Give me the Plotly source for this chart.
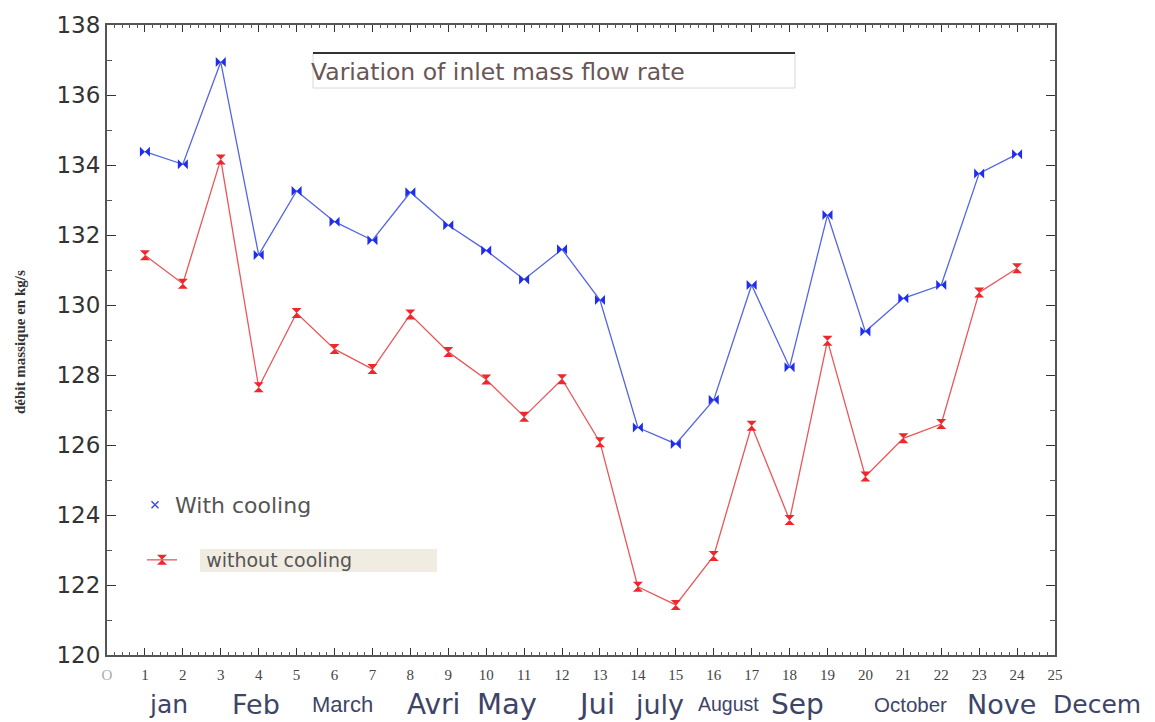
import plotly.graph_objects as go

# ---- data ----
x_index = list(range(1, 25))
with_cooling = [134.38, 134.02, 136.94, 131.43, 133.26, 132.38, 131.85, 133.22, 132.28, 131.56,
                130.73, 131.59, 130.14, 126.50, 126.03, 127.29, 130.57, 128.22, 132.57, 129.24,
                130.19, 130.57, 133.76, 134.31]
without_cooling = [131.42, 130.61, 134.16, 127.65, 129.77, 128.74, 128.17, 129.73, 128.66, 127.87,
                   126.81, 127.88, 126.08, 121.95, 121.43, 122.83, 126.55, 123.86, 128.98, 125.10,
                   126.19, 126.60, 130.36, 131.05]
x_tick_values = list(range(0, 26))
x_tick_labels = ["<span style='color:#aaaaaa'>O</span>"] + [str(v) for v in range(1, 26)]
month_labels = ["jan", "Feb", "March", "Avri", "May", "Jui", "july", "August", "Sep",
                "October", "Nove", "Decem"]
title_text = "Variation of inlet mass flow rate"
y_title = "débit massique en kg/s"

# ---- layout helpers (positions / styles only) ----
month_pos = [1.61, 3.93, 6.2, 8.6, 10.55, 12.92, 14.56, 16.38, 18.2, 21.2, 23.58, 26.11]
month_size = [25, 27, 22, 28, 29, 29, 27, 19.5, 28, 20.5, 27, 25]
small = {"March", "August", "October"}

W, H = 1155, 722
L, T = 107, 25
R = W - 1055
B = H - 655
pw, ph = W - L - R, H - T - B

WIDE = "DejaVu Sans, Verdana, sans-serif"
SANS = "Liberation Sans, Arial, sans-serif"


def px(xp):
    return (xp - L) / pw


def py(yp):
    return (H - B - yp) / ph


fig = go.Figure()
fig.add_trace(go.Scatter(
    x=x_index, y=with_cooling, mode="lines+markers", name="With cooling",
    line=dict(color="#5565e2", width=1.3),
    marker=dict(symbol="bowtie", size=10, color="#1f2df0"),
    showlegend=False))
fig.add_trace(go.Scatter(
    x=x_index, y=without_cooling, mode="lines+markers",
    name="\u00a0\u00a0\u00a0\u00a0without cooling",
    line=dict(color="#e8575a", width=1.3),
    marker=dict(symbol="hourglass", size=10, color="#f0262a"),
    legend="legend2"))
# legend sample for the blue series
fig.add_trace(go.Scatter(
    x=[None], y=[None], mode="markers", name="With cooling",
    marker=dict(symbol="x-thin-open", size=7, color="#3b4fe0", line=dict(width=1.5, color="#3b4fe0")),
    legend="legend"))

annotations = []
for name, xv, s in zip(month_labels, month_pos, month_size):
    fam = SANS if name in small else WIDE
    annotations.append(dict(
        x=xv / 25.0, y=py(704), xref="paper", yref="paper", text=name, showarrow=False,
        xanchor="center", yanchor="middle",
        font=dict(family=fam, size=s, color="#3e4468")))
annotations.append(dict(
    x=px(309), y=py(72), xref="paper", yref="paper", text=title_text, showarrow=False,
    xanchor="left", yanchor="middle",
    font=dict(family=WIDE, size=23.5, color="#6b5555")))
annotations.append(dict(
    x=px(20), y=py(342), xref="paper", yref="paper", text="<b>" + y_title + "</b>",
    showarrow=False, textangle=-90, xanchor="center", yanchor="middle",
    font=dict(family="Liberation Serif, Times New Roman", size=15, color="#333333")))

shapes = [
    dict(type="rect", xref="paper", yref="paper", x0=px(313), x1=px(795), y0=py(88), y1=py(53),
         line=dict(color="#d8d8d8", width=1), fillcolor="rgba(0,0,0,0)"),
    dict(type="line", xref="paper", yref="paper", x0=px(313), x1=px(795), y0=py(53), y1=py(53),
         line=dict(color="#333333", width=2)),
    dict(type="rect", xref="paper", yref="paper", x0=px(200), x1=px(437), y0=py(572), y1=py(549),
         line=dict(width=0), fillcolor="#f1ece2", layer="below"),
]

fig.update_layout(
    width=W, height=H,
    margin=dict(l=L, r=R, t=T, b=B),
    paper_bgcolor="white", plot_bgcolor="white",
    annotations=annotations, shapes=shapes,
    legend=dict(x=px(135), y=py(505), xanchor="left", yanchor="middle",
                bgcolor="rgba(0,0,0,0)", borderwidth=0,
                font=dict(family=WIDE, size=22, color="#555555")),
    legend2=dict(x=px(142), y=py(560), xanchor="left", yanchor="middle",
                 bgcolor="rgba(0,0,0,0)", borderwidth=0,
                 font=dict(family=WIDE, size=19, color="#555555")),
    xaxis=dict(range=[0, 25], tickmode="array", tickvals=x_tick_values, ticktext=x_tick_labels,
               ticks="inside", ticklen=7, tickwidth=1, tickcolor="#333",
               showline=True, linewidth=2, linecolor="#555", mirror="ticks",
               showgrid=False, zeroline=False, ticklabelstandoff=5, automargin=False,
               minor=dict(dtick=0.2, ticks="inside", ticklen=3, tickcolor="#555", showgrid=False),
               tickfont=dict(family="Liberation Serif, Times New Roman", size=15, color="#444")),
    yaxis=dict(range=[120, 138], dtick=2, tick0=120,
               ticks="inside", ticklen=9, tickwidth=1, tickcolor="#333",
               showline=True, linewidth=2, linecolor="#555", mirror="ticks",
               showgrid=False, zeroline=False, automargin=False,
               minor=dict(dtick=1, ticks="inside", ticklen=5, tickcolor="#555", showgrid=False),
               tickfont=dict(family=WIDE, size=23, color="#333")),
)

fig.write_html(
    "out.html",
    config={"displayModeBar": False},
    post_script="document.body.style.margin='0';document.body.style.overflow='hidden';",
)
